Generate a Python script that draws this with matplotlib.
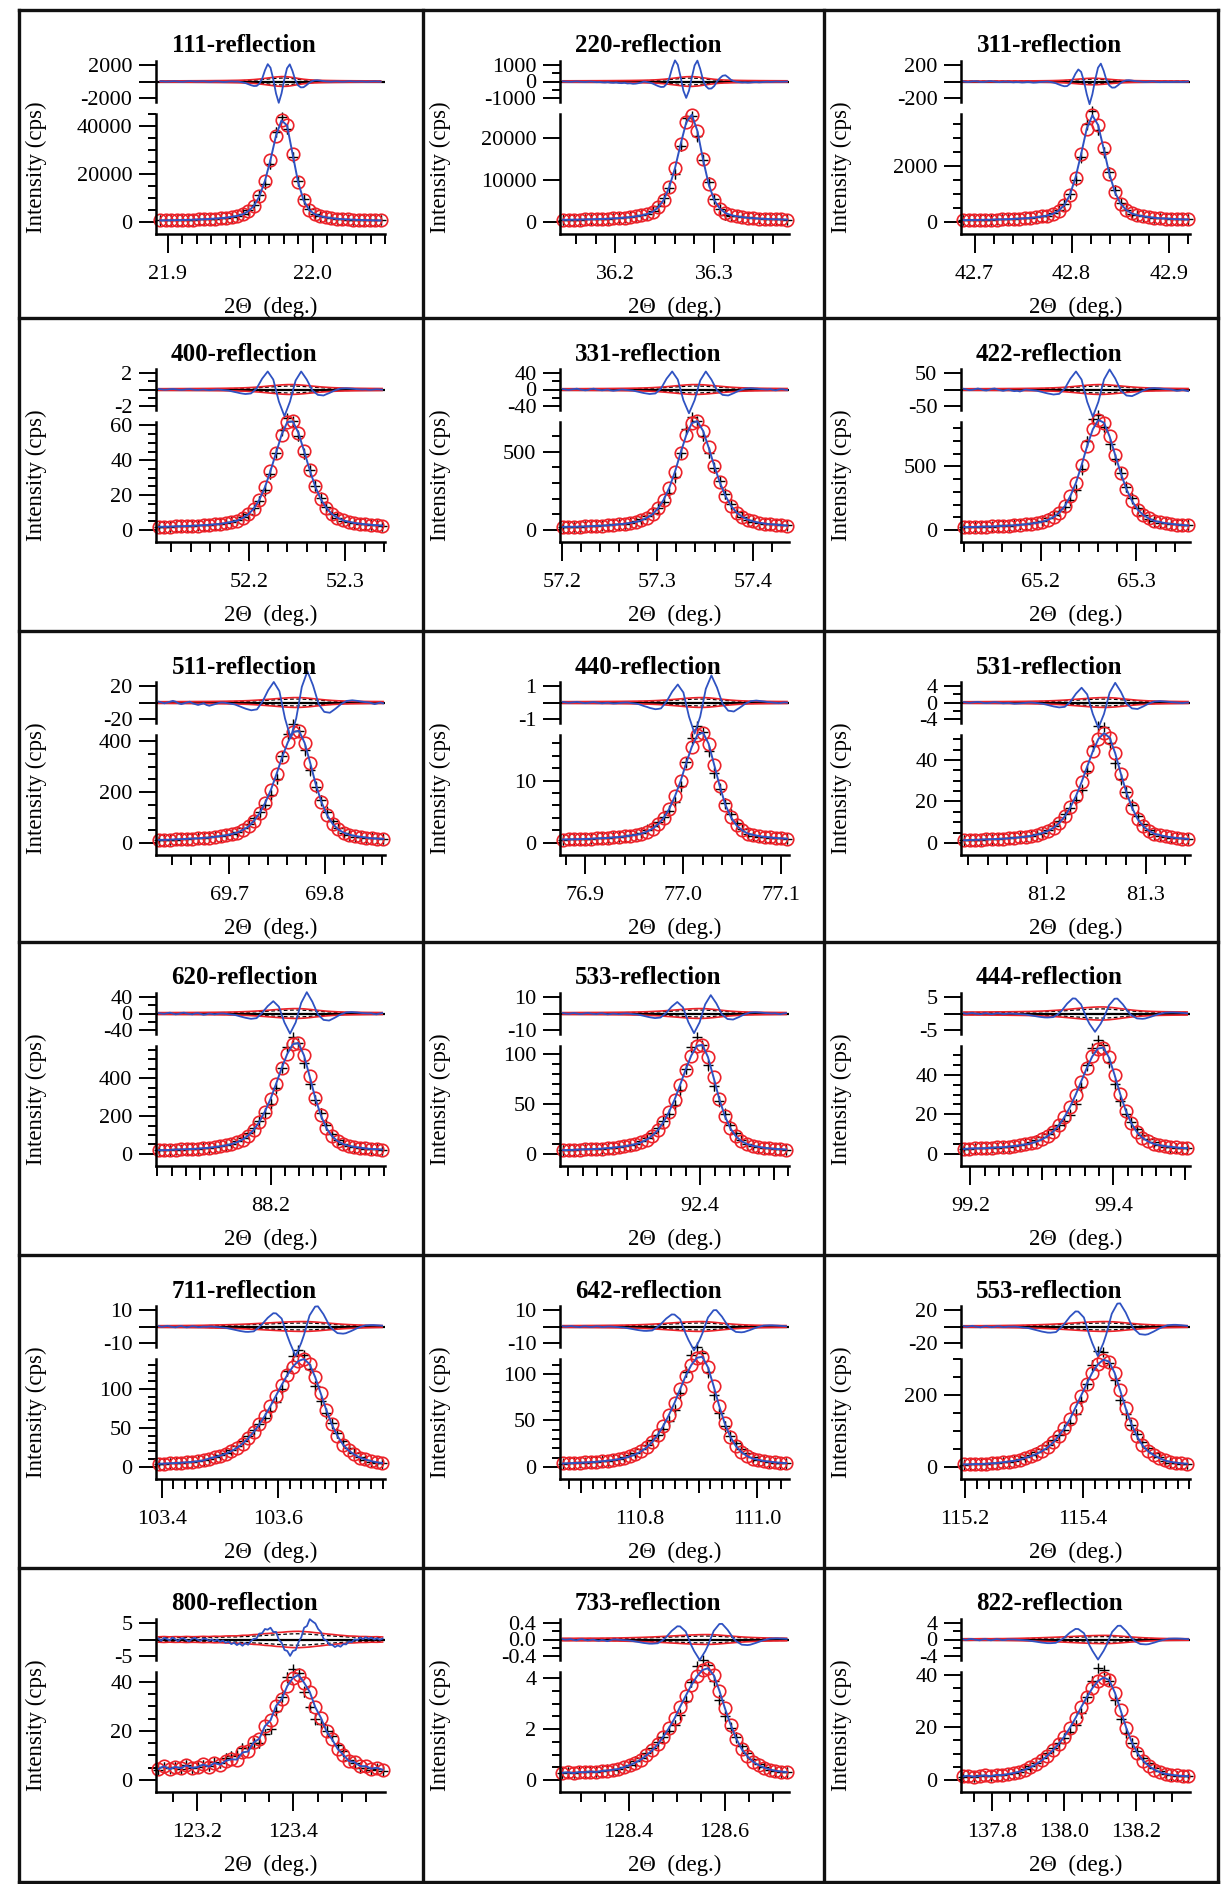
import numpy as np
import matplotlib
matplotlib.use("Agg")
import matplotlib.pyplot as plt
import matplotlib.transforms as mtransforms
from matplotlib.lines import Line2D

plt.rcParams["font.family"] = ["Liberation Serif", "DejaVu Serif"]

# ---------------------------------------------------------------- data
REFLECTIONS = ["111", "220", "311", "400", "331", "422", "511", "440", "531",
               "620", "533", "444", "711", "642", "553", "800", "733", "822"]

X_LIMITS = [(21.892, 22.050), (36.144, 36.376), (42.686, 42.922),
            (52.104, 52.341), (57.198, 57.438), (65.117, 65.356),
            (69.623, 69.863), (76.874, 77.108), (81.113, 81.345),
            (88.038, 88.362), (92.209, 92.521), (99.187, 99.507),
            (103.39, 103.784), (110.664, 111.054), (115.193, 115.581),
            (123.115, 123.59), (128.257, 128.734), (137.715, 138.349)]

SCAN_SPAN = [(21.895, 22.047), (36.147, 36.374), (42.688, 42.920),
             (52.107, 52.338), (57.201, 57.436), (65.120, 65.354),
             (69.626, 69.861), (76.877, 77.106), (81.116, 81.343),
             (88.042, 88.358), (92.213, 92.517), (99.191, 99.503),
             (103.395, 103.779), (110.669, 111.049), (115.198, 115.576),
             (123.12, 123.585), (128.262, 128.729), (137.72, 138.344)]

X_LABELLED = [[21.9, 22.0], [36.2, 36.3], [42.7, 42.8, 42.9],
              [52.2, 52.3], [57.2, 57.3, 57.4], [65.2, 65.3],
              [69.7, 69.8], [76.9, 77.0, 77.1], [81.2, 81.3],
              [88.2], [92.4], [99.2, 99.4],
              [103.4, 103.6], [110.8, 111.0], [115.2, 115.4],
              [123.2, 123.4], [128.4, 128.6], [137.8, 138.0, 138.2]]

X_MEDIUM = [[21.95], [], [], [], [], [], [], [], [],
            [88.1, 88.3], [92.3, 92.5], [99.3, 99.5],
            [103.5, 103.7], [110.7, 110.9], [115.3, 115.5],
            [], [], []]

X_MINOR_STEP = [0.01, 0.02, 0.02, 0.02, 0.02, 0.02, 0.02, 0.02, 0.02,
                0.02, 0.02, 0.02, 0.02, 0.02, 0.02, 0.05, 0.05, 0.05]

Y_TOP = [45000, 25700, 3845, 62, 690, 850, 425, 17.3, 52,
         570, 108, 54.5, 138, 116, 300, 44, 4.25, 41]
Y_MAJOR_STEP = [20000, 10000, 2000, 20, 500, 500, 200, 10, 20,
                200, 50, 20, 50, 50, 200, 20, 2, 20]
Y_MINOR_STEP = [5000, 10000, 500, 5, 100, 100, 50, 2, 5,
                50, 10, 5, 10, 10, 50, 5, 0.5, 5]

RES_LABEL = [2000, 1000, 200, 2, 40, 50, 20, 1, 4,
             40, 10, 5, 10, 10, 20, 5, 0.4, 4]
RES_ZERO_SHOWN = [False, True, False, False, True, False, False, False, True,
                  True, False, False, False, False, False, False, True, True]
RES_MINOR = [False, True, False, True, True, False, False, False, True,
             True, False, False, False, False, False, False, True, True]
ENV_FRAC = [0.3, 0.3, 0.2, 0.3, 0.3, 0.3, 0.3, 0.3, 0.3,
            0.3, 0.3, 0.4, 0.3, 0.3, 0.3, 0.5, 0.3, 0.25]

obs_111 = [640, 670, 710, 750, 800, 855, 930, 1010, 1110, 1240, 1390, 1540, 1790, 2140,
           2520, 3200, 4530, 6700, 10760, 17170, 25900, 35950, 42360, 40220, 28480,
           16740, 9050, 5080, 3250, 2390, 1920, 1580, 1325, 1150, 1025, 920, 834, 770,
           710, 660, 620]
obs_220 = [500, 515, 535, 560, 590, 620, 660, 705, 755, 830, 907, 1010, 1135, 1310, 1540,
           1870, 2400, 3460, 5260, 8370, 12800, 18470, 23680, 25550, 21650, 14900, 9050,
           5200, 3160, 2120, 1615, 1340, 1135, 983, 882, 780, 712, 654, 614, 578, 545]
obs_311 = [65, 67, 70, 73, 76, 80, 85, 90, 97, 106, 115, 128, 143, 164, 194, 228, 288, 397,
           596, 961, 1580, 2420, 3326, 3796, 3458, 2616, 1724, 1063, 653, 427, 300, 236,
           198, 172, 145, 130, 119, 106, 98, 91, 86]
obs_400 = [1.8, 1.8, 1.9, 2.0, 2.1, 2.2, 2.4, 2.5, 2.7, 2.9, 3.2, 3.5, 4.0, 4.6, 5.3, 6.8,
           8.9, 12.2, 17.3, 24.5, 33.9, 44.3, 54.8, 61.9, 62.3, 55.8, 45.5, 34.7, 25.1,
           17.7, 12.7, 9.1, 7.0, 5.5, 4.7, 4.0, 3.6, 3.2, 2.9, 2.7, 2.5]
obs_331 = [19, 20, 20, 21, 22, 24, 26, 27, 29, 32, 36, 40, 45, 51, 61, 78, 100, 138, 194,
           271, 372, 492, 605, 683, 695, 634, 528, 410, 304, 218, 153, 111, 84, 65, 54,
           46, 41, 36, 34, 30, 28]
obs_422 = [22, 23, 24, 25, 26, 27, 29, 32, 34, 36, 40, 44, 50, 56, 65, 79, 101, 136, 187,
           267, 372, 510, 662, 792, 867, 844, 736, 589, 446, 321, 228, 160, 118, 90, 71,
           61, 53, 47, 42, 38, 35]
obs_511 = [12, 12, 13, 14, 15, 16, 17, 18, 20, 21, 24, 27, 30, 35, 41, 51, 65, 88, 118,
           159, 210, 272, 338, 396, 437, 442, 394, 315, 230, 161, 110, 75, 53, 40, 32, 27,
           24, 21, 18, 17, 16]
obs_440 = [0.54, 0.56, 0.58, 0.61, 0.63, 0.67, 0.72, 0.76, 0.81, 0.88, 0.95, 1.04, 1.16,
           1.3, 1.49, 1.82, 2.3, 3.0, 4.03, 5.5, 7.5, 9.9, 12.8, 15.4, 17.3, 17.7, 15.9,
           12.5, 9.05, 6.1, 4.1, 2.8, 2.0, 1.5, 1.28, 1.1, 0.97, 0.88, 0.79, 0.73, 0.67]
obs_531 = [1.3, 1.4, 1.5, 1.6, 1.7, 1.8, 1.9, 2.0, 2.2, 2.4, 2.7, 3.0, 3.4, 4.0, 4.7, 5.8,
           7.3, 9.6, 12.8, 17.2, 22.6, 29.3, 36.8, 44.1, 50.1, 52.9, 50.7, 43.2, 33.4,
           24.3, 17.0, 11.5, 8.1, 5.9, 4.4, 3.7, 3.1, 2.7, 2.4, 2.1, 1.9]
obs_620 = [20, 20, 21, 23, 24, 25, 26, 28, 30, 33, 36, 40, 45, 52, 62, 76, 97, 127, 169,
           224, 290, 370, 453, 528, 580, 586, 520, 411, 297, 205, 137, 94, 68, 52, 43, 37,
           33, 29, 26, 25, 23]
obs_533 = [3.8, 3.9, 4.1, 4.4, 4.6, 4.8, 5.0, 5.3, 5.8, 6.3, 6.9, 7.5, 8.5, 9.8, 11.6,
           14.3, 18.2, 23.7, 31.6, 41.9, 54.1, 69.0, 84.4, 98.4, 108.1, 109.2, 96.9, 76.7,
           55.4, 38.4, 25.7, 17.7, 12.8, 9.9, 8.2, 7.1, 6.2, 5.6, 5.0, 4.7, 4.4]
obs_444 = [2.5, 2.7, 2.8, 2.8, 2.9, 3.1, 3.3, 3.4, 3.7, 4.0, 4.3, 4.8, 5.3, 6.2, 7.3, 9.0,
           11.3, 14.4, 18.5, 23.6, 29.7, 36.5, 43.2, 49.2, 53.2, 53.7, 48.7, 39.9, 30.3,
           21.9, 15.5, 11.0, 8.1, 6.3, 5.1, 4.4, 3.9, 3.6, 3.3, 3.0, 2.9]
obs_711 = [4.0, 4.3, 4.6, 5.0, 5.4, 5.9, 6.5, 7.3, 8.3, 10.7, 12.4, 14.4, 17.0, 20.2, 24.4,
           29.8, 36.5, 44.7, 54.3, 65.5, 77.9, 91.3, 104.7, 117.5, 128.1, 135.5, 138.0,
           131.4, 115.0, 94.0, 72.8, 54.3, 39.5, 28.5, 21.0, 15.9, 12.0, 9.5, 7.5, 6.0, 5.0]
obs_642 = [3.7, 3.9, 4.2, 4.4, 4.8, 5.1, 5.5, 6.1, 6.7, 7.4, 8.3, 9.5, 11.3, 13.5, 16.7,
           20.9, 26.8, 34.6, 44.1, 55.9, 68.7, 83.5, 97.8, 109.4, 117.3, 118.4, 107.1,
           87.3, 65.8, 46.9, 32.4, 22.4, 15.9, 11.7, 9.0, 7.6, 6.4, 5.7, 5.0, 4.4, 4.1]
obs_553 = [7, 7, 8, 8, 9, 10, 11, 13, 15, 17, 20, 25, 30, 36, 44, 54, 68, 86, 107, 133,
           165, 198, 231, 262, 285, 298, 293, 262, 213, 163, 120, 86, 60, 44, 33, 25, 18,
           14, 12, 10, 9]
obs_800 = [4.5, 5.6, 4.4, 5.3, 4.8, 5.9, 4.9, 5.2, 6.3, 5.4, 6.9, 6.2, 7.8, 8.4, 8.3, 11.2,
           11.6, 15.3, 16.8, 21.9, 24.3, 30.2, 33.0, 38.3, 41.6, 42.8, 39.6, 35.9, 29.6,
           25.3, 19.8, 16.5, 12.6, 10.2, 7.7, 7.2, 5.6, 5.6, 4.6, 5.0, 4.1]
obs_733 = [0.28, 0.3, 0.27, 0.31, 0.3, 0.33, 0.31, 0.35, 0.37, 0.4, 0.43, 0.5, 0.58, 0.68,
           0.8, 0.97, 1.16, 1.4, 1.7, 2.04, 2.42, 2.88, 3.31, 3.73, 4.08, 4.33, 4.40, 4.12,
           3.52, 2.82, 2.18, 1.63, 1.21, 0.93, 0.72, 0.58, 0.48, 0.41, 0.36, 0.33, 0.31]
obs_822 = [1.3, 1.6, 1.2, 1.5, 1.7, 1.4, 1.9, 1.8, 2.2, 2.6, 3.1, 3.9, 4.8, 6.0, 7.4, 9.2,
           11.3, 13.6, 16.4, 19.8, 23.5, 27.6, 31.4, 34.9, 37.6, 38.9, 37.9, 33.1, 26.5,
           19.8, 14.3, 10.2, 7.3, 5.3, 3.9, 2.9, 2.3, 1.9, 1.7, 1.5, 1.4]

# residuals on a grid twice as fine as the observed points
res_111 = [30, 20, -10, 0, 20, 40, 10, -20, -30, 0, 30, 50, 20, -10, 0, 30, 20, -20, -40,
           -10, 20, 10, -30, -60, -40, 0, 20, -20,
           0, -55, -110, -202, -331, -460, -552, -534, -258, 368, 1380, 2116, 1679, 291,
           -1456, -2600, -1456, 222, 1610, 2093, 1265, 161, -460, -718, -699, -460, -184,
           23, 133, 152, 115, 60, 18,
           0, -20, 10, 30, 0, -20, -10, 20, 40, 10, -10, 0, 20, -10, -30, 0, 10, 20, 0, -10]
res_220 = [10, 0, -10, -20, 0, 10, -10, -20, -30, -10, 0, -20, -40, -30, -50, -60, -40, -70,
           -80, -60, -90, -100, -80, -120, -110, -140, -130, -100, -60,
           0, -34, -67, -123, -202, -280, -336, -325, -157, 224, 840, 1288, 1022, 282,
           -560, -1000, -560, 240, 980, 1274, 770, 98, -280, -437, -426, -280, 0, 200,
           350, 380, 250, 100, 20,
           -20, -40, -60, -50, -70, -60, -40, -30, -50, -40, -20, -10, -30, -20, 0, -10,
           -20, -10, 0]
res_311 = [2, -3, -5, 0, 4, 2, -4, -6, -2, 3, 5, 0, -5, -8, -4, 0, -3, -7, -10, -6, -8, -12,
           -10, -6, -9, -14, -12, -8, -5, -3,
           0, -6, -12, -21, -35, -48, -58, -56, -29, 26, 96, 147, 117, 3, -155, -277, -155,
           22, 168, 218, 132, 17, -48, -75, -73, -48, -19, 2, 14, 16, 12, 6, 2,
           0, -4, -6, -3, 2, 0, -5, -8, -6, -3, -5, -7, -4, -2, -5, -6, -3, 0]
res_400 = [0.05, 0.02, -0.03, 0.0, 0.04, 0.06, 0.02, -0.02, -0.05, -0.02, 0.03, 0.05, 0.0,
           -0.04, -0.06, -0.03, 0.0, -0.05, -0.08, -0.06, -0.03,
           0, -0.03, -0.07, -0.1, -0.13, -0.21, -0.29, -0.36, -0.44, -0.5, -0.55, -0.52,
           -0.48, -0.19, 0.11, 0.72, 1.32, 1.76, 2.2, 1.71, 1.21, -0.13, -1.46, -2.36,
           -3.25, -2.36, -1.46, -0.18, 1.1, 1.65, 2.2, 1.71, 1.21, 0.55, -0.11, -0.39,
           -0.66, -0.69, -0.73, -0.58, -0.44, -0.28, -0.11, 0, 0.11, 0.13, 0.15, 0.13,
           0.11, 0.08, 0.04, 0.02, 0,
           0.03, -0.02, -0.04, 0.0, 0.03, 0.01, -0.02]
res_331 = [1, 0, -1, 0, 1, 2, 0, -1, -2, -1, 1, 2, 0, -1, -2, -1, 0, -2, -3, -2, -1,
           0, -0.7, -1.3, -2, -2.6, -4.2, -5.7, -7.3, -8.8, -9.9, -11, -10.3, -9.7, -3.7,
           2.2, 14.3, 26.4, 35.2, 44, 34.1, 24.2, -1, -26.1, -42.1, -58, -42.1, -26.1,
           -2.1, 22, 33, 44, 34.1, 24.2, 11, -2.2, -7.7, -13.2, -13.9, -14.5, -11.7, -8.8,
           -5.5, -2.2, 0, 2.2, 2.6, 3.1, 2.6, 2.2, 1.5, 0.9, 0.4, 0,
           1, -1, -2, 0, 1, 0, -1]
res_422 = [2, 0, -2, -1, 1, 3, 1, -2, -3, -1, 2, 3, 0, -2, -4, -2, 0, -3, -5, -4, -6, -3,
           0, -0.9, -1.8, -2.7, -3.7, -5.8, -7.9, -10.1, -12.2, -13.7, -15.3, -14.3,
           -13.4, -5.3, 2.8, 17.9, 33, 44, 55, 42.6, 30.3, -3.6, -37.4, -60.2, -83, -60.2,
           -37.4, -3.4, 30.5, 45.8, 61, 47.3, 33.6, 15.3, -3.1, -10.7, -18.3, -19.2, -20.1,
           -16.2, -12.2, -7.6, -3.1, 0, 3.1, 3.7, 4.3, 3.7, 3.1, 2.1, 1.2, 0.6, 0,
           -2, -4, -3, -1, -3, -5]
res_511 = [1, 0, -1, 0, 1, 2, 1, -1, -2, -1, 0, 1, -1, -2, -3, -2, -1, -3, -4, -3, -2, -1, 0,
           0, -0.6, -1.1, -1.7, -2.3, -3.6, -4.9, -6.3, -7.6, -8.6, -9.5, -8.9, -8.4, -3.6,
           1.3, 8.1, 15, 20, 25, 19.4, 13.8, -2.8, -19.4, -31.2, -43, -31.2, -19.4, -0.2,
           19, 28.5, 38, 29.5, 20.9, 9.5, -1.9, -6.7, -11.4, -12, -12.5, -10.1, -7.6, -4.8,
           -1.9, 0, 1.9, 2.3, 2.7, 2.3, 1.9, 1.3, 0.8, 0.4, 0,
           -1, -2, -1, 0, -1]
res_440 = [0.03, 0.01, -0.02, 0.0, 0.02, 0.04, 0.01, -0.02, -0.04, -0.02, 0.01, 0.03, 0.0,
           -0.03, -0.05, -0.03, -0.01, -0.04, -0.06, -0.05, -0.03, -0.02, 0.0,
           0, -0.03, -0.05, -0.07, -0.1, -0.16, -0.22, -0.27, -0.33, -0.37, -0.41, -0.39,
           -0.36, -0.15, 0.06, 0.36, 0.66, 0.88, 1.1, 0.85, 0.61, -0.13, -0.86, -1.38,
           -1.9, -1.38, -0.86, -0.02, 0.83, 1.24, 1.65, 1.28, 0.91, 0.41, -0.08, -0.29,
           -0.5, -0.52, -0.55, -0.44, -0.33, -0.21, -0.08, 0, 0.08, 0.1, 0.12, 0.1, 0.08,
           0.06, 0.03, 0.02, 0,
           -0.02, -0.04, -0.02, 0.01, -0.01]
res_531 = [0.1, 0.0, -0.1, 0.0, 0.1, 0.15, 0.05, -0.1, -0.15, -0.1, 0.0, 0.1, 0.0, -0.1,
           -0.2, -0.15, -0.1, -0.2, -0.3, -0.25, -0.2, -0.15, -0.1, 0.0,
           0, -0.07, -0.14, -0.22, -0.29, -0.46, -0.62, -0.79, -0.96, -1.08, -1.2, -1.13,
           -1.06, -0.44, 0.18, 1.17, 2.16, 2.88, 3.6, 2.79, 1.98, -0.41, -2.79, -4.5, -6.2,
           -4.5, -2.79, -0.2, 2.4, 3.6, 4.8, 3.72, 2.64, 1.2, -0.24, -0.84, -1.44, -1.51,
           -1.58, -1.27, -0.96, -0.6, -0.24, 0, 0.24, 0.29, 0.34, 0.29, 0.24, 0.17, 0.1,
           0.05, 0,
           -0.1, -0.15, -0.05, 0.0]
res_620 = [1, 0, -1, 1, 2, 0, -2, -1, 1, 2, 0, -1, -2, 0, 1, -1, -3, -2, 0, -1, -2, -1, 0,
           0, -0.8, -1.6, -2.3, -3.1, -4.9, -6.8, -8.6, -10.4, -11.7, -13, -12.2, -11.4, -5,
           1.5, 9.8, 18, 24, 30, 23.3, 16.5, -2.8, -22.1, -35.5, -49, -35.5, -22.1, 2, 26,
           39, 52, 40.3, 28.6, 13, -2.6, -9.1, -15.6, -16.4, -17.2, -13.8, -10.4, -6.5,
           -2.6, 0, 2.6, 3.1, 3.6, 3.1, 2.6, 1.8, 1, 0.5, 0,
           1, -1, -2, 0, 1]
res_533 = [0.3, 0.0, -0.2, 0.1, 0.3, 0.0, -0.3, -0.2, 0.1, 0.3, 0.0, -0.2, -0.4, 0.0, 0.2,
           -0.2, -0.5, -0.3, 0.0, -0.2, -0.4, -0.2, 0.0,
           0, -0.17, -0.34, -0.5, -0.67, -1.06, -1.46, -1.85, -2.24, -2.52, -2.8, -2.63,
           -2.46, -1.05, 0.35, 2.28, 4.2, 5.6, 7, 5.43, 3.85, -0.77, -5.4, -8.7, -12, -8.7,
           -5.4, 0.1, 5.6, 8.4, 11.2, 8.68, 6.16, 2.8, -0.56, -1.96, -3.36, -3.53, -3.7,
           -2.97, -2.24, -1.4, -0.56, 0, 0.56, 0.67, 0.78, 0.67, 0.56, 0.39, 0.22, 0.11, 0,
           0.2, -0.2, -0.4, 0.0, 0.2]
res_444 = [0.1, -0.1, 0.05, 0.15, 0.0, -0.1, -0.2, 0.0, 0.1, -0.1, -0.2, -0.05, 0.1, 0.0,
           -0.15, -0.1, 0.0,
           0, -0.06, -0.12, -0.18, -0.24, -0.3, -0.44, -0.58, -0.72, -0.86, -1.0, -1.1,
           -1.2, -1.22, -1.16, -1.1, -0.56, -0.02, 0.8, 1.9, 3.0, 3.8, 4.6, 4.55, 3.65,
           2.75, 0.64, -1.47, -3.14, -4.37, -5.6, -4.37, -3.14, -1.52, 0.49, 2.5, 3.5, 4.5,
           4.55, 3.65, 2.75, 1.55, 0.35, -0.5, -1.0, -1.5, -1.56, -1.62, -1.52, -1.26,
           -1.0, -0.7, -0.4, -0.15, 0.05, 0.25, 0.29, 0.33, 0.33, 0.29, 0.25, 0.19, 0.13,
           0.07]
res_711 = [0.3, -0.2, 0.1, 0.4, 0.0, -0.3, -0.5, 0.0, 0.3, -0.2, -0.5, -0.2, 0.2, 0.0,
           -0.4, -0.3, 0.0, -0.2, 0.0,
           0, -0.16, -0.32, -0.49, -0.65, -0.81, -1.19, -1.57, -1.94, -2.32, -2.7, -2.97,
           -3.24, -3.29, -3.13, -2.97, -1.6, -0.24, 1.41, 3.34, 5.28, 6.69, 8.1, 8.0,
           6.42, 4.84, -0.34, -5.51, -10.08, -14.04, -18, -14.04, -10.08, -5.13, 0.81,
           6.75, 9.45, 12.15, 12.29, 9.86, 7.43, 4.19, 0.95, -1.35, -2.7, -4.05, -4.21,
           -4.37, -4.1, -3.4, -2.7, -1.89, -1.08, -0.41, 0.14, 0.68, 0.78, 0.89, 0.89,
           0.78, 0.68, 0.51]
res_642 = [0.2, -0.1, 0.1, 0.3, 0.0, -0.2, -0.4, 0.0, 0.2, -0.1, -0.3, -0.1, 0.2, 0.0,
           -0.3, -0.2, 0.0,
           0, -0.13, -0.26, -0.4, -0.53, -0.66, -0.97, -1.28, -1.58, -1.89, -2.2, -2.42,
           -2.64, -2.68, -2.55, -2.42, -1.29, -0.16, 1.28, 3.04, 4.8, 6.08, 7.36, 7.28,
           5.84, 4.4, 0.01, -4.38, -8.18, -11.39, -14.6, -11.39, -8.18, -4.16, 0.67, 5.5,
           7.7, 9.9, 10.01, 8.03, 6.05, 3.41, 0.77, -1.1, -2.2, -3.3, -3.43, -3.56, -3.34,
           -2.77, -2.2, -1.54, -0.88, -0.33, 0.11, 0.55, 0.64, 0.73, 0.73, 0.64, 0.55,
           0.42, 0.29, 0.15]
res_553 = [0.5, -0.3, 0.2, 0.8, 0.0, -0.5, -1.0, 0.0, 0.6, -0.3, -0.8, -0.3, 0.4, 0.0,
           -0.7, -0.5, 0.0, -0.3,
           0, -0.37, -0.74, -1.12, -1.49, -1.86, -2.73, -3.6, -4.46, -5.33, -6.2, -6.82,
           -7.44, -7.56, -7.19, -6.82, -3.69, -0.56, 3.2, 7.6, 12, 15.2, 18.4, 18.2, 14.6,
           11, 0.12, -10.76, -20.16, -28.08, -36, -28.08, -20.16, -9.86, 2.82, 15.5, 21.7,
           27.9, 28.21, 22.63, 17.05, 9.61, 2.17, -3.1, -6.2, -9.3, -9.67, -10.04, -9.42,
           -7.81, -6.2, -4.34, -2.48, -0.93, 0.31, 1.55, 1.8, 2.05, 2.05, 1.8, 1.55, 1.18,
           0.81]
res_800 = [0.3, -0.4, 0.5, 0.2, -0.3, 0.6, 0.1, -0.5, 0.3, 0.4, -0.2, -0.6, 0.2, 0.5, -0.1,
           -0.4, 0.3,
           0.2, -0.4, 0.1, -0.5, 0.0, -0.7, -0.3, -1.0, -0.6, -1.4, -1.0, -1.7, -1.2, -1.9,
           -1.1, -1.6, -0.5, 0.2, 0.3, 1.8, 1.9, 3.2, 3.0, 3.6, 2.3, 2.3, -0.1, -1.0, -3.2,
           -3.5, -5.0, -3.5, -3.2, -0.8, 0.7, 3.6, 4.1, 6.2, 5.5, 4.9, 3.2, 2.3, 0.1, -0.3,
           -1.6, -1.6, -2.3, -1.8, -2.2, -1.4, -1.5, -0.6, -0.8, 0.1, -0.2, 0.6, 0.1, 0.7,
           0.2, 0.6, 0.0, 0.4, -0.1, 0.3]
res_733 = [0.01, -0.005, 0.0, 0.01, -0.01, -0.02, 0.0, 0.01, -0.01, -0.02, -0.01, 0.0,
           -0.02, -0.03, -0.01, -0.02, -0.04, -0.02, 0.0,
           0, -0.005, -0.01, -0.015, -0.02, -0.025, -0.037, -0.049, -0.06, -0.072, -0.084,
           -0.092, -0.101, -0.102, -0.097, -0.092, -0.048, -0.004, 0.056, 0.133, 0.21,
           0.266, 0.322, 0.319, 0.256, 0.193, 0.026, -0.141, -0.28, -0.39, -0.5, -0.39,
           -0.28, -0.138, 0.036, 0.21, 0.294, 0.378, 0.382, 0.307, 0.231, 0.13, 0.029,
           -0.042, -0.084, -0.126, -0.131, -0.136, -0.128, -0.106, -0.084, -0.059, -0.034,
           -0.013, 0.004, 0.021, 0.024, 0.028, 0.028, 0.024, 0.021, 0.016]
res_822 = [0.1, -0.1, 0.05, 0.15, 0.0, -0.1, -0.2, 0.0, 0.1, -0.1, -0.2, -0.05, 0.1, 0.0,
           -0.15, -0.1, 0.05, 0.0,
           0, -0.04, -0.09, -0.13, -0.18, -0.22, -0.33, -0.43, -0.53, -0.64, -0.74, -0.81,
           -0.89, -0.9, -0.86, -0.81, -0.43, -0.05, 0.45, 1.06, 1.68, 2.13, 2.58, 2.55,
           2.04, 1.54, 0.04, -1.46, -2.74, -3.82, -4.9, -3.82, -2.74, -1.39, 0.23, 1.85,
           2.59, 3.33, 3.37, 2.7, 2.04, 1.15, 0.26, -0.37, -0.74, -1.11, -1.15, -1.2, -1.13,
           -0.93, -0.74, -0.52, -0.3, -0.11, 0.04, 0.19, 0.22, 0.24, 0.24, 0.22, 0.19,
           0.14, 0.1]

OBS = [obs_111, obs_220, obs_311, obs_400, obs_331, obs_422, obs_511, obs_440, obs_531,
       obs_620, obs_533, obs_444, obs_711, obs_642, obs_553, obs_800, obs_733, obs_822]
RESID = [res_111, res_220, res_311, res_400, res_331, res_422, res_511, res_440, res_531,
         res_620, res_533, res_444, res_711, res_642, res_553, res_800, res_733, res_822]

# ---------------------------------------------------------------- layout (pixels)
W_PX, H_PX = 1224, 1884
ROW_EDGES = [10, 318, 631, 942, 1255, 1568, 1882]
COL_EDGES = [19, 423, 824, 1218]
AX_X0, AX_X1 = 137, 366
RES_Y0, RES_Y1 = 51, 92
MAIN_Y0, MAIN_Y1 = 104, 224

RED = "#ec2229"
BLUE = "#2f52c2"


def box(x0, y0, x1, y1):
    return [x0 / W_PX, 1 - y1 / H_PX, (x1 - x0) / W_PX, (y1 - y0) / H_PX]


def num(v, dec=None):
    if dec is None:
        return f"{v:g}"
    return f"{v:.{dec}f}"


fig = plt.figure(figsize=(W_PX / 100, H_PX / 100), dpi=100)
fig.patch.set_facecolor("white")

for k, name in enumerate(REFLECTIONS):
    row, col = divmod(k, 3)
    cl, ct = COL_EDGES[col], ROW_EDGES[row]

    obs = np.asarray(OBS[k], dtype=float)
    res = np.asarray(RESID[k], dtype=float)
    if len(res) != 2 * len(obs) - 1:
        raise SystemExit(f"{name}: {len(obs)} obs vs {len(res)} residual points")
    xs, xe = SCAN_SPAN[k]
    x_obs = np.linspace(xs, xe, len(obs))
    x_res = np.linspace(xs, xe, len(res))
    model = obs - res[::2]
    xlo, xhi = X_LIMITS[k]

    # main panel
    ax = fig.add_axes(box(cl + AX_X0, ct + MAIN_Y0, cl + AX_X1, ct + MAIN_Y1))
    top = Y_TOP[k]
    ax.set_xlim(xlo, xhi)
    ax.set_ylim(-0.112 * top, top)
    err = 0.05 * obs.max()
    ax.errorbar(x_obs, model, yerr=err, fmt="none", ecolor="#222222", elinewidth=0.8)
    ax.plot(x_obs, model, "+", color="black", ms=7.5, mew=1.0, clip_on=False)
    ax.plot(x_obs, obs, "o", mfc="none", mec=RED, ms=9, mew=1.2, clip_on=False)
    ax.plot(x_obs, obs, color=BLUE, lw=1.4, clip_on=False)

    ax.set_xticks(X_LABELLED[k], [num(v, 1) for v in X_LABELLED[k]])
    step = X_MINOR_STEP[k]
    minors = np.arange(np.ceil(xlo / step - 1e-6) * step, xhi + 1e-9, step)
    ax.set_xticks(minors, minor=True)
    blend = mtransforms.blended_transform_factory(ax.transData, ax.transAxes)
    for xm in X_MEDIUM[k]:
        ax.plot([xm, xm], [0, -14 / 120], transform=blend, color="black", lw=1.4,
                solid_capstyle="butt", clip_on=False)

    ymaj = np.arange(0, top + 1e-9, Y_MAJOR_STEP[k])
    ax.set_yticks(ymaj, [num(v) for v in ymaj])
    ax.set_yticks(np.arange(0, top + 1e-9, Y_MINOR_STEP[k]), minor=True)

    for side in ("top", "right"):
        ax.spines[side].set_visible(False)
    for side in ("left", "bottom"):
        ax.spines[side].set_linewidth(1.8)
    ax.tick_params(axis="x", which="major", length=13.5, width=1.4, pad=9, labelsize=16)
    ax.tick_params(axis="x", which="minor", length=7.5, width=1.4)
    ax.tick_params(axis="y", which="major", length=12, width=1.4, pad=5, labelsize=16)
    ax.tick_params(axis="y", which="minor", length=6, width=1.4)
    ax.patch.set_alpha(0)

    # residual strip
    axr = fig.add_axes(box(cl + AX_X0, ct + RES_Y0, cl + AX_X1, ct + RES_Y1))
    L = RES_LABEL[k]
    axr.set_xlim(xlo, xhi)
    axr.set_ylim(-1.25 * L, 1.25 * L)
    env = ENV_FRAC[k] * L * np.sqrt(obs / obs.max())
    axr.axhline(0, color="black", lw=1.6)
    axr.plot(x_obs, 0.7 * env, color="black", lw=0.9, ls=(0, (3, 2)))
    axr.plot(x_obs, -0.7 * env, color="black", lw=0.9, ls=(0, (3, 2)))
    axr.plot(x_obs, env, color=RED, lw=1.2)
    axr.plot(x_obs, -env, color=RED, lw=1.2)
    axr.plot(x_res, res, color=BLUE, lw=1.3, clip_on=False)

    dec = 1 if L < 1 else 0
    axr.set_yticks([-L, 0, L], [num(-L, dec), num(0, dec) if RES_ZERO_SHOWN[k] else "",
                                num(L, dec)])
    if RES_MINOR[k]:
        axr.set_yticks([-L / 2, L / 2], minor=True)
    axr.xaxis.set_visible(False)
    for side in ("top", "right", "bottom"):
        axr.spines[side].set_visible(False)
    axr.spines["left"].set_linewidth(1.8)
    axr.tick_params(axis="y", which="major", length=12, width=1.4, pad=5, labelsize=16)
    axr.tick_params(axis="y", which="minor", length=6, width=1.4)
    axr.patch.set_alpha(0)

    # texts
    fig.text((cl + 225) / W_PX, 1 - (ct + 36) / H_PX, f"{name}-reflection",
             ha="center", va="center", fontsize=18, fontweight="bold")
    fig.text((cl + 17) / W_PX, 1 - (ct + 157) / H_PX, "Intensity (cps)",
             rotation=90, ha="center", va="center", fontsize=16.5)
    fig.text((cl + (AX_X0 + AX_X1) / 2) / W_PX, 1 - (ct + 297) / H_PX, "2\u0398  (deg.)",
             ha="center", va="center", fontsize=16.5)

# panel frame
for x in COL_EDGES:
    fig.add_artist(Line2D([x / W_PX, x / W_PX], [1 - ROW_EDGES[0] / H_PX, 1 - ROW_EDGES[-1] / H_PX],
                          transform=fig.transFigure, color="#111111", lw=2.4))
for y in ROW_EDGES:
    fig.add_artist(Line2D([COL_EDGES[0] / W_PX, COL_EDGES[-1] / W_PX], [1 - y / H_PX, 1 - y / H_PX],
                          transform=fig.transFigure, color="#111111", lw=2.4))

fig.savefig("out.png", dpi=100)
